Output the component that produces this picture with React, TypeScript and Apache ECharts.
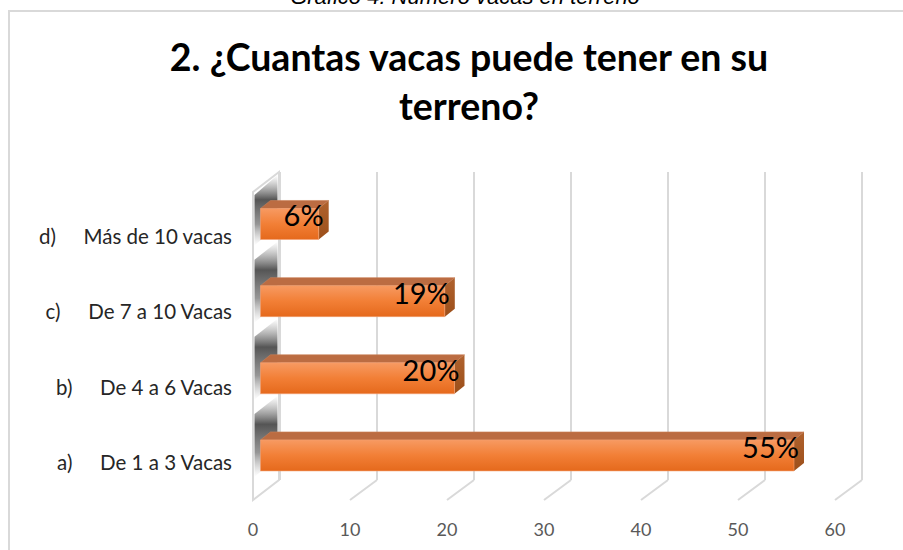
import React, { useEffect, useRef } from 'react';
import * as echarts from 'echarts';

const caption = 'Gráfico 4: Número vacas en terreno';
const titleText = '2. ¿Cuantas vacas puede tener en su\nterreno?';
const catPrefix = ['a)', 'b)', 'c)', 'd)'];
const catNames = ['De 1 a 3 Vacas', 'De 4 a 6 Vacas', 'De 7 a 10 Vacas', 'Más de 10 vacas'];
const values = [55, 20, 19, 6];
const valueLabels = ['55%', '20%', '19%', '6%'];
const xTicks = [0, 10, 20, 30, 40, 50, 60];
const X_MIN = 0;
const X_MAX = 60;
const X_STEP = 10;

export default function App() {
  const ref = useRef<HTMLDivElement>(null);
  useEffect(() => {
    if (!ref.current) return;
    const chart = echarts.init(ref.current, null, { renderer: 'svg' });
    const gridW = 582;
    const xAxisBase = { type: 'value', min: X_MIN, max: X_MAX, interval: X_STEP };
    const option: any = {
      animation: false,
      backgroundColor: '#ffffff',
      title: {
        text: titleText,
        left: 464,
        top: 27,
        textAlign: 'center',
        textStyle: {
          fontFamily: 'Lato',
          fontWeight: 'bold',
          fontSize: 37.5,
          lineHeight: 49,
          color: '#000000',
        },
      },
      graphic: [
        {
          type: 'rect',
          shape: { x: 9, y: 11, width: 1000, height: 600 },
          style: { fill: 'none', stroke: '#d9d9d9', lineWidth: 2 },
          z: 0,
        },
        {
          type: 'text',
          x: 465,
          y: 7,
          style: {
            text: caption,
            font: 'italic 22px "Liberation Sans", Arial, sans-serif',
            fill: '#000000',
            textAlign: 'center',
            textVerticalAlign: 'bottom',
            align: 'center',
            verticalAlign: 'bottom',
          },
        },
      ],
      grid: [
        { left: 253, top: 198, width: gridW, height: 302 },
        { left: 260.5, top: 185.4, width: gridW, height: 308.6 },
        { left: 280, top: 172, width: gridW, height: 308 },
      ],
      xAxis: [
        {
          ...xAxisBase,
          gridIndex: 0,
          axisLine: { show: false },
          axisTick: { show: false },
          splitLine: { show: false },
          axisLabel: {
            margin: 20,
            fontFamily: 'Lato',
            fontSize: 18,
            color: '#595959',
          },
        },
        {
          ...xAxisBase,
          gridIndex: 1,
          show: false,
          splitLine: { show: false },
        },
        {
          ...xAxisBase,
          gridIndex: 2,
          axisLine: { show: false },
          axisTick: { show: false },
          axisLabel: { show: false },
          splitLine: { show: true, lineStyle: { color: '#d9d9d9', width: 2 } },
        },
      ],
      yAxis: [
        {
          type: 'category',
          gridIndex: 0,
          data: catNames,
          axisLine: { show: false },
          axisTick: { show: false },
          splitLine: { show: false },
          axisLabel: {
            margin: 21,
            formatter: (_v: string, i: number) => `{p|${catPrefix[i]}}{t|${catNames[i]}}`,
            rich: {
              p: { fontFamily: 'Lato', fontSize: 20.5, color: '#262626', padding: [0, 27, 0, 0] },
              t: { fontFamily: 'Lato', fontSize: 20.5, color: '#262626' },
            },
          },
        },
        { type: 'category', gridIndex: 1, data: catNames, show: false },
        { type: 'category', gridIndex: 2, data: catNames, show: false },
      ],
      series: [
        {
          type: 'custom',
          xAxisIndex: 0,
          yAxisIndex: 0,
          z: 1,
          silent: true,
          data: xTicks.map((t) => [t, 0]),
          encode: { x: 0, y: 1 },
          renderItem: (params: any, api: any) => {
            const cs = params.coordSys;
            const x = api.coord([api.value(0), 0])[0];
            const yb = cs.y + cs.height;
            const children: any[] = [];
            if (params.dataIndex === 0) {
              children.push({
                type: 'polygon',
                shape: {
                  points: [
                    [x, cs.y - 6],
                    [x + 26, cs.y - 26],
                    [x + 26, yb - 20],
                    [x, yb],
                  ],
                },
                style: { fill: '#ffffff', stroke: '#d9d9d9', lineWidth: 2 },
              });
            } else {
              children.push({
                type: 'line',
                shape: { x1: x + 27, y1: yb - 20, x2: x, y2: yb },
                style: { stroke: '#d9d9d9', lineWidth: 2 },
              });
            }
            return { type: 'group', children };
          },
        },
        {
          type: 'custom',
          xAxisIndex: 1,
          yAxisIndex: 1,
          z: 3,
          silent: true,
          data: values.map((v, i) => [v, i]),
          encode: { x: 0, y: 1 },
          renderItem: (params: any, api: any) => {
            const v = api.value(0);
            const idx = api.value(1);
            const p0 = api.coord([0, idx]);
            const p1 = api.coord([v, idx]);
            const h = 31;
            const dx = 10;
            const dy = -8;
            const yc = p0[1];
            const yT = yc - h / 2;
            const yB = yc + h / 2;
            const x0 = p0[0];
            const x1 = p1[0];
            const wf = x0 - 7.5;
            const wb = x0 + 18.5;
            return {
              type: 'group',
              children: [
                {
                  type: 'polygon',
                  shape: {
                    points: [
                      [wf + 1.5, Math.max(yT - 26, 195)],
                      [wb - 1.5, Math.max(yT - 44, 175)],
                      [wb - 1.5, yB - 14],
                      [wf + 1.5, yB + 6],
                    ],
                  },
                  style: {
                    fill: new echarts.graphic.LinearGradient(0, 0, 0, 1, [
                      { offset: 0, color: 'rgba(120,120,120,0)' },
                      { offset: 0.35, color: 'rgba(55,55,55,0.85)' },
                      { offset: 0.7, color: 'rgba(80,80,80,0.6)' },
                      { offset: 1, color: 'rgba(140,140,140,0)' },
                    ]),
                  },
                },
                {
                  type: 'polygon',
                  shape: {
                    points: [
                      [x0, yT],
                      [x0 + dx, yT + dy],
                      [x1 + dx, yT + dy],
                      [x1, yT],
                    ],
                  },
                  style: { fill: '#bb6c42', stroke: '#c98056', lineWidth: 0.6 },
                },
                {
                  type: 'polygon',
                  shape: {
                    points: [
                      [x1, yT],
                      [x1 + dx, yT + dy],
                      [x1 + dx, yB + dy],
                      [x1, yB],
                    ],
                  },
                  style: {
                    fill: new echarts.graphic.LinearGradient(0, 0, 0, 1, [
                      { offset: 0, color: '#b0622e' },
                      { offset: 1, color: '#9c4f1a' },
                    ]),
                  },
                },
                {
                  type: 'rect',
                  shape: { x: x0, y: yT, width: x1 - x0, height: h },
                  style: {
                    fill: new echarts.graphic.LinearGradient(0, 0, 0, 1, [
                      { offset: 0, color: '#f79a62' },
                      { offset: 0.5, color: '#f27f36' },
                      { offset: 1, color: '#e5691c' },
                    ]),
                    stroke: '#f4a070',
                    lineWidth: 0.6,
                  },
                },
                {
                  type: 'text',
                  style: {
                    text: valueLabels[params.dataIndex],
                    x: x1 + 5,
                    y: yc - 9,
                    font: '29px Lato, sans-serif',
                    fill: '#000000',
                    textAlign: 'right',
                    textVerticalAlign: 'middle',
                    align: 'right',
                    verticalAlign: 'middle',
                  },
                },
              ],
            };
          },
        },
      ],
    };
    chart.setOption(option);
    return () => chart.dispose();
  }, []);
  return (
    <div
      ref={ref}
      style={{ position: 'fixed', left: 0, top: 0, width: 903, height: 550, background: '#ffffff' }}
    />
  );
}
